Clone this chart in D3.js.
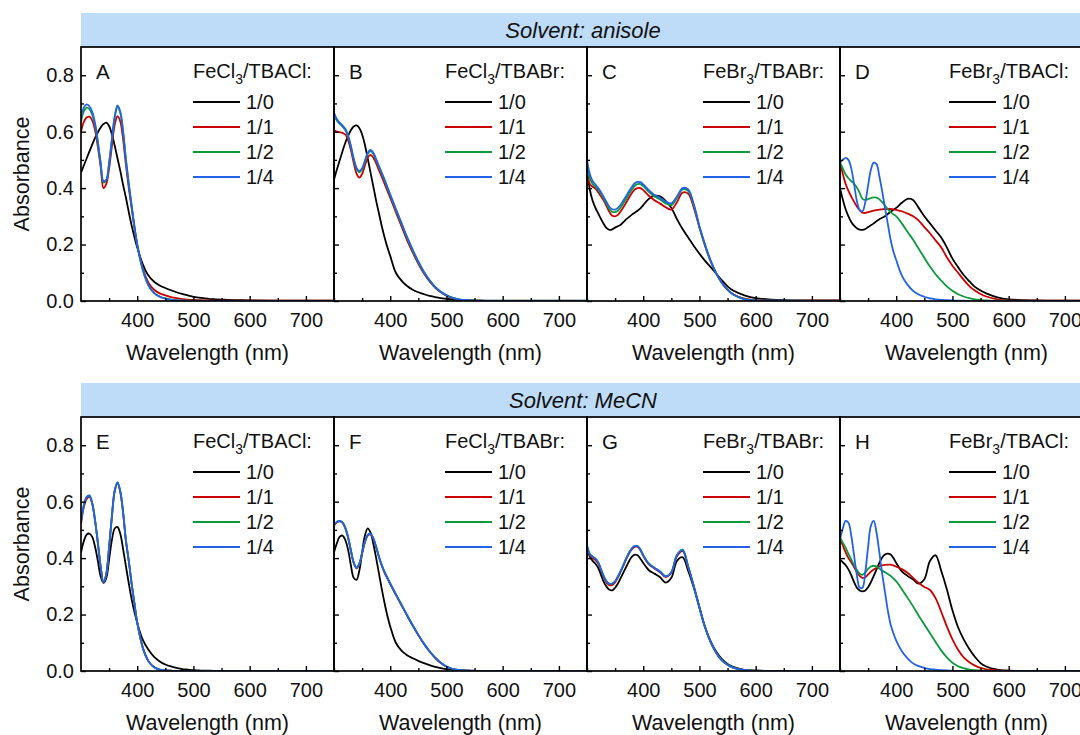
<!DOCTYPE html>
<html><head><meta charset="utf-8">
<script src="https://cdn.jsdelivr.net/npm/d3@7"></script>
<style>
body{margin:0;background:#fff}
svg{display:block;font-family:"Liberation Sans",Arial,sans-serif}
</style></head>
<body>
<svg id="chart" width="1080" height="735"></svg>
<script>
// ---------- data ----------
const wavelengths = [300,305,310,315,320,325,330,335,340,345,350,355,360,365,370,375,380,385,390,395,400,
  410,420,430,440,450,460,470,480,490,500,510,520,530,540,550,560,580,600,650,700,750];
const seriesLabels = ["1/0","1/1","1/2","1/4"];
const panelLetters = ["A","B","C","D","E","F","G","H"];
const legendTitles = [["FeCl","3","/TBACl:"],["FeCl","3","/TBABr:"],["FeBr","3","/TBABr:"],["FeBr","3","/TBACl:"],
                      ["FeCl","3","/TBACl:"],["FeCl","3","/TBABr:"],["FeBr","3","/TBABr:"],["FeBr","3","/TBACl:"]];
const solventTitles = ["Solvent: anisole","Solvent: MeCN"];
const xTicks = [400,500,600,700];
const xMinorTicks = [350,450,550,650,750];
const yTicks = [0,0.2,0.4,0.6,0.8];
const yMinorTicks = [0.1,0.3,0.5,0.7];

const panelA = [
 [.455,.48,.505,.53,.555,.578,.598,.615,.627,.632,.62,.59,.55,.505,.46,.41,.365,.315,.268,.227,.19, .13,.09,.068,.055,.046,.038,.031,.025,.02,.015,.012,.009,.007,.006,.005,.004, .003,.002,.001,.001,.001],
 [.60,.635,.65,.653,.64,.605,.545,.475,.40,.415,.47,.55,.625,.655,.635,.57,.48,.40,.33,.26,.2, .115,.065,.04,.027,.02,.014,.01,.007,.005,.004,.003,.002,.002,.001,.001,.001, .001,.001,.001,.001,.001],
 [.635,.672,.685,.68,.66,.622,.558,.485,.42,.428,.487,.57,.65,.688,.665,.595,.497,.413,.338,.264,.2, .11,.056,.029,.016,.009,.005,.003,.002,.001,.001,.001,0,0,0,0,0, 0,0,0,0,0],
 [.65,.685,.697,.69,.67,.63,.565,.49,.425,.43,.49,.575,.655,.693,.67,.60,.50,.415,.34,.265,.2, .11,.055,.028,.015,.008,.004,.002,.001,.001,0,0,0,0,0,0,0, 0,0,0,0,0]
];
const panelB = [
 [.43,.465,.498,.53,.56,.585,.605,.618,.622,.613,.59,.553,.505,.455,.405,.355,.31,.265,.225,.19,.16, .10,.072,.053,.04,.031,.024,.018,.014,.01,.008,.006,.004,.003,.002,.002,.001, .001,.001,.001,.001,.001],
 [.605,.60,.598,.596,.59,.57,.535,.49,.452,.437,.45,.48,.508,.518,.508,.488,.463,.44,.415,.39,.365, .315,.265,.215,.172,.132,.097,.069,.047,.031,.019,.011,.006,.003,.002,.001,.001, 0,0,0,0,0],
 [.655,.64,.628,.618,.606,.583,.546,.502,.468,.456,.466,.493,.521,.531,.521,.499,.474,.45,.426,.40,.374, .323,.273,.223,.178,.137,.101,.072,.049,.032,.02,.012,.007,.004,.002,.001,.001, 0,0,0,0,0],
 [.668,.645,.632,.622,.61,.587,.55,.505,.472,.46,.47,.497,.525,.535,.525,.503,.478,.454,.43,.404,.378, .327,.277,.227,.182,.14,.104,.074,.05,.033,.021,.012,.007,.004,.002,.001,.001, 0,0,0,0,0]
];
const panelC = [
 [.47,.395,.355,.33,.31,.29,.272,.258,.252,.254,.26,.265,.27,.28,.29,.298,.306,.313,.32,.328,.34, .362,.373,.371,.355,.33,.29,.255,.225,.195,.168,.142,.12,.097,.073,.052,.037, .02,.01,.003,.002,.002],
 [.45,.415,.405,.398,.385,.37,.355,.335,.315,.302,.30,.305,.318,.333,.35,.367,.383,.395,.40,.40,.393, .373,.357,.345,.332,.324,.35,.384,.38,.33,.26,.195,.14,.097,.064,.04,.024, .008,.003,.001,.001,.001],
 [.485,.435,.415,.405,.393,.378,.362,.343,.325,.316,.315,.32,.332,.347,.363,.38,.395,.408,.414,.414,.407, .387,.37,.36,.346,.34,.365,.395,.39,.338,.262,.197,.141,.097,.064,.04,.023, .007,.002,.001,0,0],
 [.50,.45,.425,.413,.40,.385,.368,.35,.333,.325,.324,.33,.342,.357,.373,.39,.405,.417,.422,.421,.413, .393,.376,.366,.352,.346,.37,.40,.395,.343,.265,.2,.143,.098,.064,.04,.023, .006,.002,.001,0,0]
];
const panelD = [
 [.40,.36,.325,.30,.28,.267,.258,.253,.252,.255,.262,.268,.275,.283,.29,.295,.30,.308,.316,.323,.33, .348,.362,.358,.33,.30,.275,.25,.225,.19,.15,.12,.092,.07,.05,.037,.027, .013,.006,.002,.001,.001],
 [.49,.45,.415,.39,.37,.352,.335,.322,.313,.312,.315,.318,.32,.322,.324,.325,.326,.326,.326,.325,.323, .318,.31,.30,.285,.262,.24,.215,.19,.155,.125,.10,.075,.053,.037,.025,.016, .006,.002,.001,.001,.001],
 [.49,.47,.448,.435,.425,.415,.402,.383,.362,.358,.361,.365,.367,.366,.36,.35,.338,.325,.315,.307,.30, .275,.245,.217,.185,.153,.122,.095,.072,.052,.036,.024,.016,.01,.006,.004,.002, .001,.001,0,0,0],
 [.49,.50,.507,.50,.47,.415,.355,.322,.318,.35,.41,.465,.49,.485,.442,.389,.33,.274,.217,.175,.145, .09,.058,.036,.023,.015,.009,.006,.004,.003,.002,.001,.001,0,0,0,0, 0,0,0,0,0]
];
const panelE = [
 [.42,.46,.483,.487,.475,.44,.39,.335,.312,.33,.395,.465,.505,.51,.485,.43,.37,.31,.255,.21,.17, .11,.075,.05,.034,.023,.016,.011,.007,.005,.003,.002,.001,.001,0,0,0, 0,0,0,0,0],
 [.52,.58,.61,.617,.592,.533,.453,.368,.313,.343,.438,.548,.638,.666,.633,.558,.46,.39,.31,.24,.172, .082,.035,.013,.005,.002,.001,0,0,0,0,0,0,0,0,0,0, 0,0,0,0,0],
 [.528,.586,.615,.62,.594,.534,.454,.369,.314,.344,.44,.55,.64,.668,.635,.56,.46,.39,.31,.24,.172, .082,.035,.013,.005,.002,.001,0,0,0,0,0,0,0,0,0,0, 0,0,0,0,0],
 [.53,.588,.617,.622,.595,.535,.455,.37,.315,.345,.44,.55,.64,.668,.635,.56,.46,.39,.31,.24,.172, .082,.035,.013,.005,.002,.001,0,0,0,0,0,0,0,0,0,0, 0,0,0,0,0]
];
const panelF = [
 [.42,.452,.475,.48,.465,.43,.375,.33,.323,.355,.42,.48,.505,.49,.45,.40,.345,.29,.24,.195,.158, .10,.072,.056,.045,.036,.028,.021,.015,.01,.007,.005,.003,.002,.001,.001,0, 0,0,0,0,0],
 [.515,.526,.53,.525,.506,.473,.426,.383,.364,.378,.416,.456,.48,.484,.468,.438,.403,.373,.348,.328,.308, .27,.233,.196,.16,.127,.096,.069,.046,.028,.016,.008,.004,.002,.001,0,0, 0,0,0,0,0],
 [.517,.528,.532,.527,.508,.475,.428,.385,.366,.38,.418,.458,.482,.486,.47,.44,.405,.375,.35,.33,.31, .272,.235,.198,.162,.128,.097,.07,.047,.029,.016,.008,.004,.002,.001,0,0, 0,0,0,0,0],
 [.517,.528,.532,.527,.508,.475,.428,.385,.366,.38,.418,.458,.482,.486,.47,.44,.405,.375,.35,.33,.31, .272,.235,.198,.162,.128,.097,.07,.047,.029,.016,.008,.004,.002,.001,0,0, 0,0,0,0,0]
];
const panelG = [
 [.43,.405,.39,.38,.365,.34,.315,.298,.288,.286,.295,.31,.33,.35,.37,.39,.405,.412,.41,.398,.383, .357,.345,.332,.313,.33,.39,.403,.355,.295,.225,.155,.105,.068,.042,.025,.015, .004,.001,0,0,0],
 [.44,.41,.40,.393,.38,.355,.33,.312,.304,.305,.314,.331,.352,.374,.397,.417,.432,.44,.44,.428,.408, .378,.363,.35,.333,.348,.407,.425,.368,.30,.225,.155,.102,.064,.038,.022,.012, .003,.001,0,0,0],
 [.445,.415,.405,.398,.385,.36,.335,.317,.309,.31,.318,.335,.355,.377,.40,.42,.435,.443,.443,.431,.411, .381,.366,.353,.336,.351,.411,.43,.37,.30,.225,.155,.102,.064,.038,.022,.012, .003,.001,0,0,0],
 [.445,.415,.405,.398,.385,.36,.335,.317,.309,.31,.318,.335,.355,.377,.40,.42,.435,.443,.442,.43,.41, .38,.365,.352,.335,.35,.41,.428,.37,.30,.225,.155,.102,.064,.038,.022,.012, .003,.001,0,0,0]
];
const panelH = [
 [.395,.385,.375,.36,.34,.315,.295,.285,.282,.285,.297,.315,.337,.36,.383,.402,.413,.416,.413,.40,.383, .353,.337,.324,.31,.325,.39,.41,.355,.29,.215,.155,.112,.078,.05,.028,.016, .005,.001,0,0,0],
 [.472,.445,.42,.40,.385,.368,.35,.337,.33,.332,.342,.352,.36,.366,.371,.374,.376,.377,.377,.374,.37, .361,.348,.33,.312,.298,.287,.258,.21,.158,.112,.075,.048,.031,.019,.011,.006, .002,.001,0,0,0],
 [.472,.455,.437,.415,.395,.375,.358,.345,.341,.35,.362,.37,.373,.37,.363,.355,.35,.344,.337,.328,.318, .29,.26,.229,.196,.165,.134,.103,.073,.048,.029,.017,.01,.005,.003,.002,.001, 0,0,0,0,0],
 [.466,.505,.532,.525,.48,.41,.34,.295,.295,.35,.44,.515,.532,.49,.42,.345,.28,.215,.165,.134,.108, .07,.045,.027,.017,.011,.007,.005,.003,.002,.001,0,0,0,0,0,0, 0,0,0,0,0]
];
const panels = [panelA,panelB,panelC,panelD,panelE,panelF,panelG,panelH];

// ---------- styling / layout ----------
const seriesColors = ["#000000","#cc0000","#0a9a3c","#2361e6"];
const headerColor = "#bedcf8";
const boxW = 253, boxH = 254, x0 = 81;
const rowTops = [47, 417];
const headerTops = [13, 383];
const legendOffsets = [112,111,116,109];

const svg = d3.select("#chart");
const defs = svg.append("defs");

rowTops.forEach((top, r) => {
  svg.append("rect").attr("x", x0).attr("y", headerTops[r]).attr("width", boxW*4 + 2)
    .attr("height", top - headerTops[r]).attr("fill", headerColor);
  svg.append("text").attr("x", x0 + boxW*2 - 4).attr("y", headerTops[r] + 25)
    .attr("text-anchor","middle").attr("font-size", 22).attr("font-style","italic")
    .attr("fill","#111").text(solventTitles[r]);
});

panels.forEach((series, p) => {
  const row = Math.floor(p/4), col = p % 4;
  const left = x0 + col*boxW, top = rowTops[row], bottom = top + boxH;
  const x = d3.scaleLinear().domain([300,750]).range([left, left + boxW]);
  const y = d3.scaleLinear().domain([0,0.9]).range([bottom, top]);
  const g = svg.append("g");

  defs.append("clipPath").attr("id","clip"+p).append("rect")
    .attr("x", left).attr("y", top).attr("width", boxW).attr("height", boxH);

  const line = d3.line().x(d => x(d[0])).y(d => y(d[1])).curve(d3.curveCatmullRom.alpha(0.5));
  const lg = g.append("g").attr("clip-path", `url(#clip${p})`);
  series.forEach((vals, s) => {
    lg.append("path").datum(wavelengths.map((w,i) => [w, vals[i]]))
      .attr("fill","none").attr("stroke", seriesColors[s]).attr("stroke-width", 1.8)
      .attr("stroke-linejoin","round").attr("d", line);
  });

  // axes
  const yAxis = d3.axisLeft(y).tickValues(yTicks).tickSize(-5).tickSizeOuter(0).tickPadding(7)
    .tickFormat(col === 0 ? d3.format(".1f") : () => "");
  const ya = g.append("g").attr("transform", `translate(${left},0)`).call(yAxis);
  const yMinor = d3.axisLeft(y).tickValues(yMinorTicks).tickSize(-3).tickSizeOuter(0).tickFormat(() => "");
  const ym = g.append("g").attr("transform", `translate(${left},0)`).call(yMinor);
  const xAxis = d3.axisBottom(x).tickValues(xTicks).tickSize(-5).tickSizeOuter(0).tickPadding(12)
    .tickFormat(d3.format("d"));
  const xa = g.append("g").attr("transform", `translate(0,${bottom})`).call(xAxis);
  const xMinor = d3.axisBottom(x).tickValues(xMinorTicks).tickSize(-3).tickSizeOuter(0).tickFormat(() => "");
  const xm = g.append("g").attr("transform", `translate(0,${bottom})`).call(xMinor);
  [ya, ym, xa, xm].forEach(a => {
    a.select(".domain").remove();
    a.selectAll("line").attr("stroke","#000").attr("stroke-width",1.4);
    a.selectAll("text").attr("font-size",20).attr("fill","#111")
      .attr("font-family",'"Liberation Sans",Arial,sans-serif');
  });

  // frame
  g.append("rect").attr("x", left).attr("y", top).attr("width", boxW).attr("height", boxH)
    .attr("fill","none").attr("stroke","#000").attr("stroke-width",1.7);

  // axis titles
  g.append("text").attr("x", left + boxW/2).attr("y", bottom + 59).attr("text-anchor","middle")
    .attr("font-size", 21.5).attr("fill","#111").text("Wavelength (nm)");
  if (col === 0) {
    g.append("text").attr("transform", `translate(29,${(top+bottom)/2}) rotate(-90)`)
      .attr("text-anchor","middle").attr("font-size", 21.5).attr("fill","#111").text("Absorbance");
  }

  // panel letter
  g.append("text").attr("x", left + 15).attr("y", top + 32).attr("font-size", 20.5).attr("fill","#111")
    .text(panelLetters[p]);

  // legend
  const lx = left + legendOffsets[col];
  const t = g.append("text").attr("x", lx).attr("y", top + 31).attr("font-size", 20).attr("fill","#111");
  t.append("tspan").text(legendTitles[p][0]);
  t.append("tspan").attr("font-size", 14).attr("dy", 6).text(legendTitles[p][1]);
  t.append("tspan").attr("dy", -6).text(legendTitles[p][2]);
  seriesLabels.forEach((lab, s) => {
    const ly = top + 55 + s*25;
    g.append("line").attr("x1", lx).attr("x2", lx + 47).attr("y1", ly).attr("y2", ly)
      .attr("stroke", seriesColors[s]).attr("stroke-width", 2);
    g.append("text").attr("x", lx + 53).attr("y", ly).attr("dy","0.35em").attr("font-size", 20)
      .attr("fill","#111").text(lab);
  });
});
</script>
</body></html>
